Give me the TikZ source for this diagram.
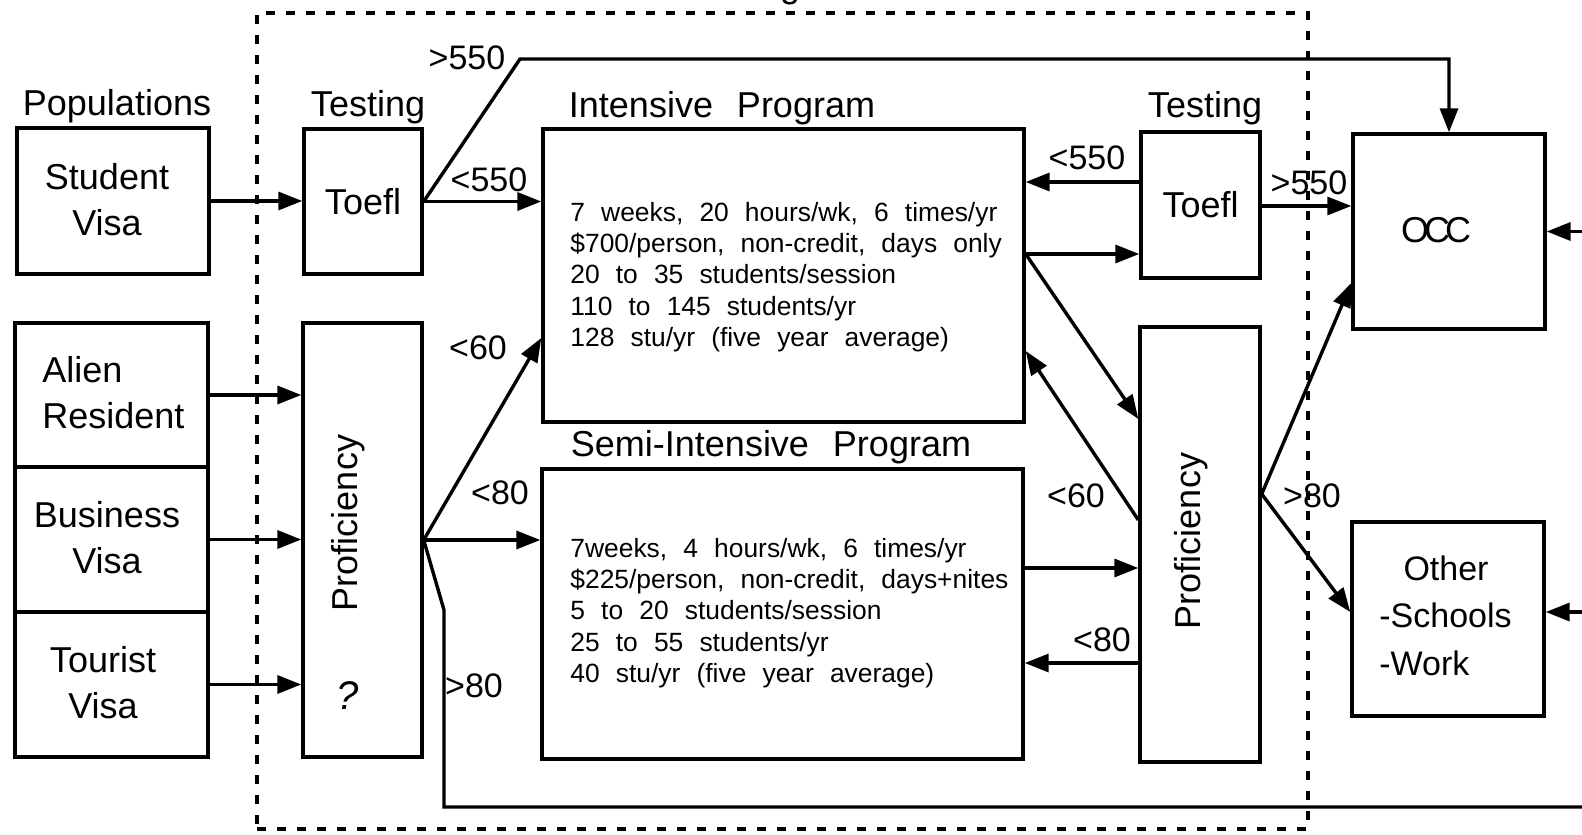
\documentclass[tikz,border=0pt]{standalone}
\usepackage{fontspec}
\setmainfont{Liberation Sans}[WordSpace=2.4]
\newfontfamily\bodyfont{Liberation Sans}[WordSpace=2.2]
\newfontfamily\occfont{Liberation Sans}[LetterSpace=-14]
\usetikzlibrary{arrows.meta,fit,calc}
\begin{document}
\begin{tikzpicture}[x=0.5pt,y=-0.5pt,
  box/.style={draw, line width=1.7pt, inner sep=0pt},
  hd/.style={font=\fontsize{18}{22}\selectfont, inner sep=0pt},
  lbl/.style={font=\fontsize{18}{23}\selectfont, inner sep=0pt, align=center},
  cond/.style={font=\fontsize{17}{20}\selectfont, inner sep=0pt},
  body/.style={font=\bodyfont\fontsize{13.2}{15.6}\selectfont, inner sep=0pt, align=left},
  arr/.style={line width=1.7pt, -{Triangle[length=12pt,width=9pt]}},
  ln/.style={line width=1.7pt},
  dashbox/.style={draw, line width=1.7pt, dash pattern=on 4.5pt off 5.5pt, inner sep=0pt}
]
\useasboundingbox (0,0) rectangle (1582,834);
\begin{scope}
  \clip (0,0) rectangle (1582,834);
  \node[hd, anchor=base] (gcut) at (790,-2) {g};
\end{scope}

% dashed system boundary
\node[dashbox, fit={(257,13) (1308,829)}] (system) {};

% headings
\node[hd] (hpop) at (117,106) {Populations};
\node[hd] (htest1) at (368,107) {Testing};
\node[hd] (hint) at (722,108) {Intensive Program};
\node[hd] (htest2) at (1205,108) {Testing};
\node[hd] (hsemi) at (771,447) {Semi-Intensive Program};

% boxes
\node[box, fit={(17,128) (209,274)}] (sv) {};
\node[box, fit={(15,323) (208,467)}] (ar) {};
\node[box, fit={(15,467) (208,612)}] (bv) {};
\node[box, fit={(15,612) (208,757)}] (tv) {};
\node[box, fit={(304,129) (422,274)}] (tl) {};
\node[box, fit={(303,323) (422,757)}] (pl) {};
\node[box, fit={(543,129) (1024,422)}] (int) {};
\node[box, fit={(542,469) (1023,759)}] (semi) {};
\node[box, fit={(1141,132) (1260,278)}] (tr) {};
\node[box, fit={(1140,327) (1260,762)}] (pr) {};
\node[box, fit={(1353,134) (1545,329)}] (occ) {};
\node[box, fit={(1352,522) (1544,716)}] (oth) {};

% box texts
\node[lbl] (svt) at (107,200) {Student\\Visa};
\node[lbl, align=left, anchor=west] (art) at (42,393) {Alien\\Resident};
\node[lbl] (bvt) at (107,538) {Business\\Visa};
\node[lbl] (tvt) at (103,683) {Tourist\\Visa};
\node[lbl] (tlt) at (tl.center) {Toefl};
\node[lbl] (trt) at (tr.center) {Toefl};
\node[lbl, rotate=90] (plt) at (348,523) {Proficiency};
\node[lbl, rotate=90] (prt) at (1191,541) {Proficiency};
\node[font=\fontsize{20}{24}\selectfont\itshape, inner sep=0pt] (plq) at (348,696) {?};
\node[font=\occfont\fontsize{18}{22}\selectfont, inner sep=0pt] (occt) at (1436,230) {OCC};
\node[cond] (otht) at (1446,568) {Other};
\node[cond, anchor=west] (oths) at (1379,615) {-Schools};
\node[cond, anchor=west] (othw) at (1379,663) {-Work};

\node[body, anchor=west] (intt) at (570,277) {7 weeks, 20 hours/wk, 6 times/yr\\\$700/person, non-credit, days only\\20 to 35 students/session\\110 to 145 students/yr\\128 stu/yr (five year average)};
\node[body, anchor=west] (semit) at (570,613) {7weeks, 4 hours/wk, 6 times/yr\\\$225/person, non-credit, days+nites\\5 to 20 students/session\\25 to 55 students/yr\\40 stu/yr (five year average)};

% helper coordinates
\coordinate (k1) at (520,59);
\coordinate (k2) at (444,610);
\coordinate (k3) at (444,807);
\coordinate (k4) at (1582,807);
\coordinate (edge) at (1582,0);
\coordinate (h540) at (0,540);
\coordinate (h338) at (0,338);
\coordinate (h182) at (0,182);
\coordinate (h254) at (0,254);
\coordinate (h419) at (0,419);
\coordinate (h520) at (0,520);
\coordinate (h351) at (0,351);
\coordinate (h568) at (0,568);
\coordinate (h663) at (0,663);
\coordinate (h206) at (0,206);
\coordinate (h494) at (0,494);
\coordinate (h283) at (0,283);
\coordinate (h612) at (0,612);

% connectors
\draw[arr] (sv.east) -- (sv.east -| tl.west);
\draw[arr] (ar.east) -- (ar.east -| pl.west);
\draw[arr] (bv.east) -- (bv.east -| pl.west);
\draw[arr] (tv.east) -- (tv.east -| pl.west);
\draw[arr] (tl.east) -- (tl.east -| int.west);
\draw[arr] (tl.east) -- (k1) -- (k1 -| occ.north) -- (occ.north);
\draw[arr] (pl.east |- h540) -- (int.west |- h338);
\draw[arr] (pl.east |- h540) -- (semi.west |- h540);
\draw[ln] (pl.east |- h540) -- (k2) -- (k3) -- (k4);
\draw[arr] (tr.west |- h182) -- (int.east |- h182);
\draw[arr] (int.east |- h254) -- (tr.west |- h254);
\draw[arr] (int.east |- h254) -- (pr.west |- h419);
\draw[arr] (pr.west |- h520) -- (int.east |- h351);
\draw[arr] (semi.east |- h568) -- (pr.west |- h568);
\draw[arr] (pr.west |- h663) -- (semi.east |- h663);
\draw[arr] (tr.east |- h206) -- (occ.west |- h206);
\draw[arr] (pr.east |- h494) -- (occ.west |- h283);
\draw[arr] (pr.east |- h494) -- (oth.west |- h612);
\draw[arr] (edge |- occ.east) -- (occ.east);
\draw[arr] (edge |- h612) -- (oth.east |- h612);

% condition labels
\node[cond] (c1) at (467,58) {>550};
\node[cond] (c2) at (489,180) {<550};
\node[cond] (c3) at (478,348) {<60};
\node[cond] (c4) at (500,493) {<80};
\node[cond] (c5) at (474,686) {>80};
\node[cond] (c6) at (1087,158) {<550};
\node[cond] (c7) at (1076,496) {<60};
\node[cond] (c8) at (1102,640) {<80};
\node[cond] (c9) at (1309,183) {>550};
\node[cond] (c10) at (1312,496) {>80};
\end{tikzpicture}
\end{document}
